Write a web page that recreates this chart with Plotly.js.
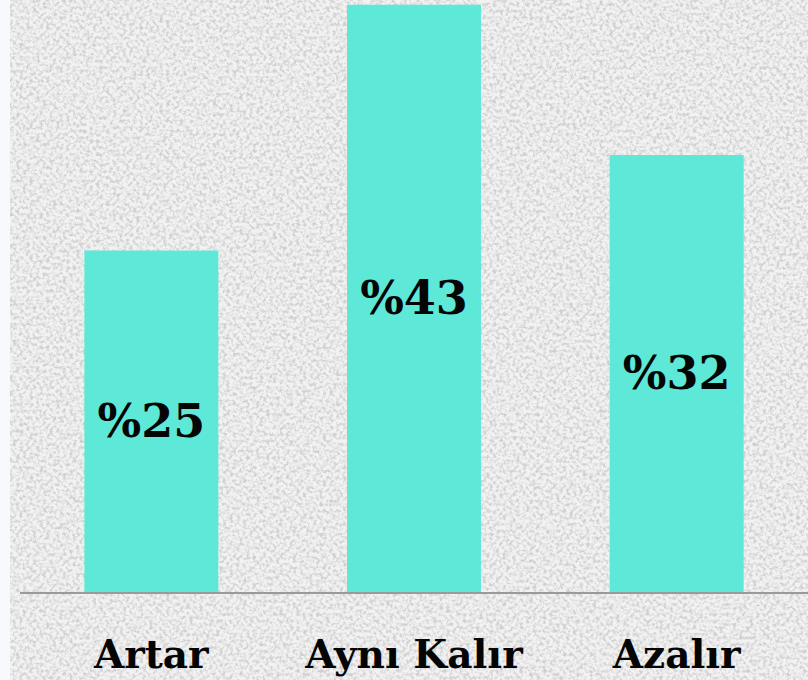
<!DOCTYPE html>
<html>
<head>
<meta charset="utf-8">
<script src="https://cdn.plot.ly/plotly-3.0.1.min.js"></script>
<style>
  html, body { margin: 0; padding: 0; background: #f8f9fd; }
  #wrap { position: relative; width: 808px; height: 680px; overflow: hidden; }
  #bg { position: absolute; left: 10px; top: 0; width: 798px; height: 680px;
        background-color: #ebebeb;
        background-image: url("data:image/svg+xml;utf8,<svg xmlns='http://www.w3.org/2000/svg' width='798' height='680'><filter id='n' x='0' y='0' width='100%25' height='100%25'><feTurbulence type='fractalNoise' baseFrequency='0.3' numOctaves='3' seed='7'/><feColorMatrix type='matrix' values='0 0 0 0 0.62  0 0 0 0 0.62  0 0 0 0 0.62  3.0 0 0 0 -1.25'/></filter><rect width='100%25' height='100%25' fill='%23f2f2f2'/><rect width='100%25' height='100%25' filter='url(%23n)'/></svg>"); }
  #chart { position: absolute; left: 0; top: 0; width: 808px; height: 680px; }
</style>
</head>
<body>
<div id="wrap">
  <div id="bg"></div>
  <div id="chart"></div>
</div>
<script>
const categories = ["Artar", "Aynı Kalır", "Azalır"];
const values = [25, 43, 32];
const valueLabels = ["%25", "%43", "%32"];

const trace = {
  type: "bar",
  x: categories,
  y: values,
  text: valueLabels,
  textposition: "inside",
  insidetextanchor: "middle",
  textangle: 0,
  constraintext: "none",
  textfont: { family: "DejaVu Serif", size: 46, color: "#050505", weight: "bold" },
  marker: { color: "#5ee8d7", line: { width: 0 } },
  hoverinfo: "none"
};

const layout = {
  width: 808,
  height: 680,
  margin: { l: 20, r: 0, t: 0, b: 88 },
  paper_bgcolor: "rgba(0,0,0,0)",
  plot_bgcolor: "rgba(0,0,0,0)",
  bargap: 0.49,
  showlegend: false,
  xaxis: {
    type: "category",
    showgrid: false,
    zeroline: false,
    showline: true,
    linecolor: "#9a9a9a",
    linewidth: 2,
    ticks: "outside",
    ticklen: 27,
    tickcolor: "rgba(0,0,0,0)",
    tickfont: { family: "DejaVu Serif", size: 39, color: "#050505", weight: "bold" },
    fixedrange: true
  },
  yaxis: {
    range: [0, 43.34],
    visible: false,
    showgrid: false,
    zeroline: false,
    fixedrange: true
  }
};

Plotly.newPlot("chart", [trace], layout, { displayModeBar: false, staticPlot: true });
</script>
</body>
</html>
